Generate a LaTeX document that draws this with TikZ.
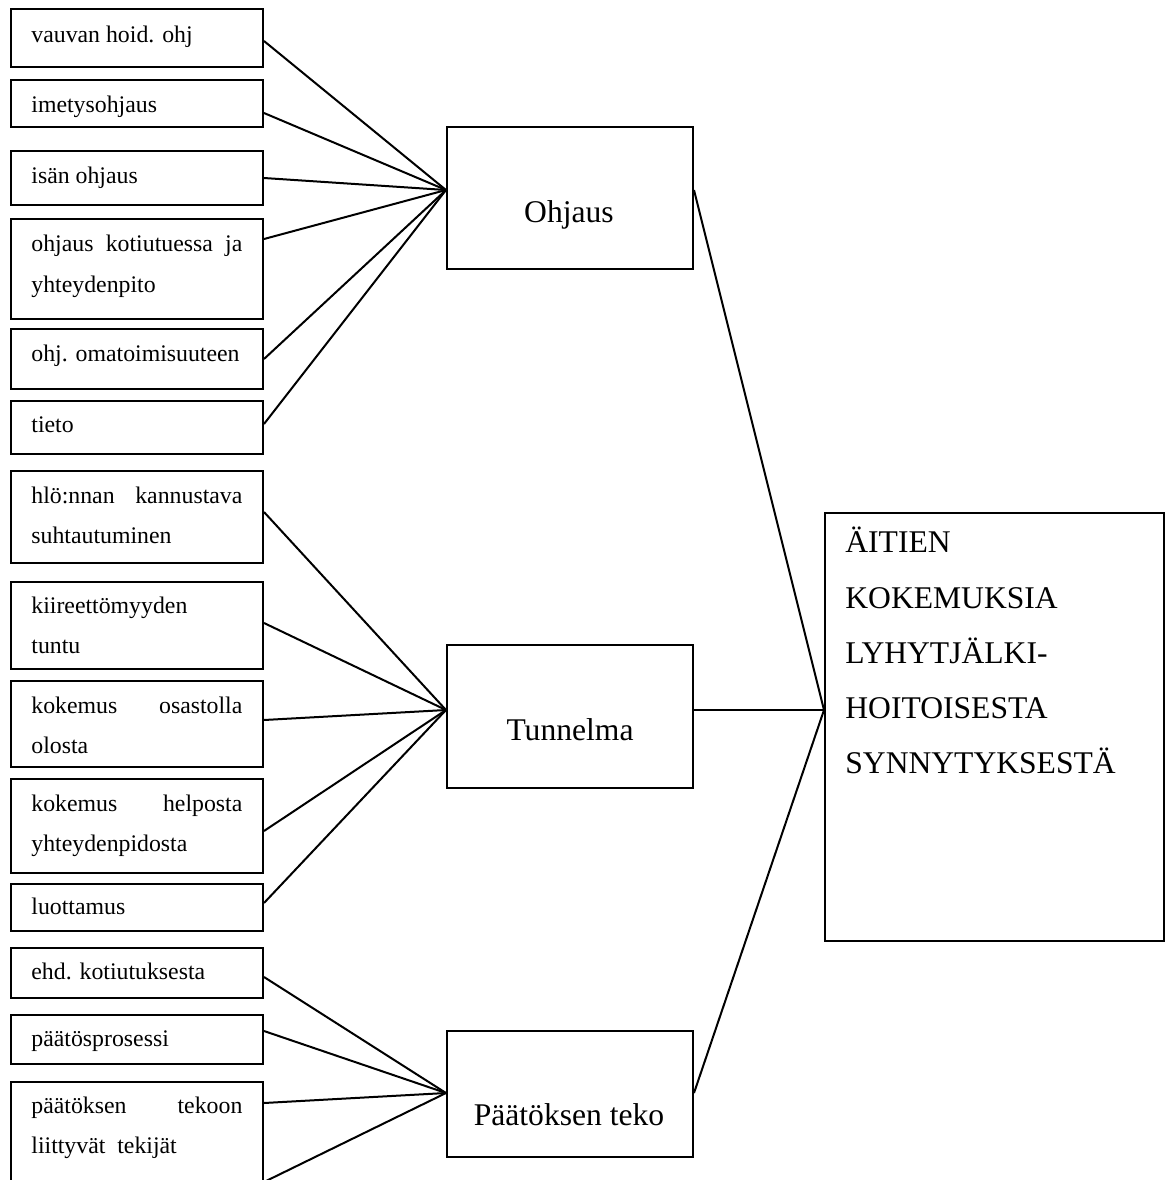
\documentclass[tikz,border=0pt]{standalone}
\usepackage{fontspec}
\setmainfont{Liberation Serif}
\begin{document}
\begin{tikzpicture}[x=0.5pt,y=-0.5pt,
  box/.style={draw,line width=1pt,inner sep=0pt,anchor=north west,minimum width=126pt},
  cbox/.style={draw,line width=1pt,inner sep=0pt,anchor=north west,minimum width=123pt},
  small/.style={anchor=base west,inner sep=0pt,font=\fontsize{11.9}{14}\selectfont},
  big/.style={anchor=base,inner sep=0pt,font=\fontsize{15.8}{19}\selectfont},
  bigl/.style={anchor=base west,inner sep=0pt,font=\fontsize{15.8}{19}\selectfont},
  conn/.style={line width=1pt}]
\useasboundingbox (0,0) rectangle (1165,1180);
% left boxes
\node[box,minimum height=29pt]   (b1)  at (10,8) {};
\node[box,minimum height=23.5pt] (b2)  at (10,79) {};
\node[box,minimum height=27pt]   (b3)  at (10,150) {};
\node[box,minimum height=50pt]   (b4)  at (10,218) {};
\node[box,minimum height=30pt]   (b5)  at (10,328) {};
\node[box,minimum height=26.5pt] (b6)  at (10,400) {};
\node[box,minimum height=46pt]   (b7)  at (10,470) {};
\node[box,minimum height=43.5pt] (b8)  at (10,581) {};
\node[box,minimum height=43pt]   (b9)  at (10,680) {};
\node[box,minimum height=47pt]   (b10) at (10,778) {};
\node[box,minimum height=23.5pt] (b11) at (10,883) {};
\node[box,minimum height=25pt]   (b12) at (10,947) {};
\node[box,minimum height=24.5pt] (b13) at (10,1014) {};
\node[box,minimum height=60pt]   (b14) at (10,1081) {};
% texts of left boxes
\node[small] (t1)  at (31,42)  {vauvan hoid. ohj};
\node[small] (t2)  at (31,112) {imetysohjaus};
\node[small] (t3)  at (31,183) {isän ohjaus};
\node[small] (t4a) at (31,251) {\makebox[105.5pt][s]{ohjaus kotiutuessa ja}};
\node[small] (t4b) at (31,292) {yhteydenpito};
\node[small] (t5)  at (31,361) {ohj. omatoimisuuteen};
\node[small] (t6)  at (31,432) {tieto};
\node[small] (t7a) at (31,503) {\makebox[105.5pt][s]{hlö:nnan kannustava}};
\node[small] (t7b) at (31,543) {suhtautuminen};
\node[small] (t8a) at (31,613) {kiireettömyyden};
\node[small] (t8b) at (31,653) {tuntu};
\node[small] (t9a) at (31,713) {\makebox[105.5pt][s]{kokemus osastolla}};
\node[small] (t9b) at (31,753) {olosta};
\node[small] (t10a) at (31,811) {\makebox[105.5pt][s]{kokemus helposta}};
\node[small] (t10b) at (31,851) {yhteydenpidosta};
\node[small] (t11) at (31,914) {luottamus};
\node[small] (t12) at (31,979) {ehd. kotiutuksesta};
\node[small] (t13) at (31,1046) {päätösprosessi};
\node[small] (t14a) at (31,1113) {\makebox[105.5pt][s]{päätöksen tekoon}};
\node[small] (t14b) at (31,1153) {liittyvät\ \ tekijät};
% category boxes
\node[cbox,minimum height=71pt]   (ohj) at (446,126) {};
\node[cbox,minimum height=71.5pt] (tun) at (446,644) {};
\node[cbox,minimum height=63pt]   (paa) at (446,1030) {};
\node[big] (tohj) at (569,222)  {Ohjaus};
\node[big] (ttun) at (570,740)  {Tunnelma};
\node[big] (tpaa) at (569,1125) {Päätöksen teko};
% main box
\node[draw,line width=1pt,inner sep=0pt,anchor=north west,minimum width=169.5pt,minimum height=214pt] (main) at (824,512) {};
\node[bigl] (m1) at (845,552) {ÄITIEN};
\node[bigl] (m2) at (845,608) {KOKEMUKSIA};
\node[bigl] (m3) at (845,663) {LYHYTJÄLKI-};
\node[bigl] (m4) at (845,718) {HOITOISESTA};
\node[bigl] (m5) at (845,773) {SYNNYTYKSESTÄ};
% connectors to Ohjaus
\draw[conn] (b1.east |- 0,41)  -- (ohj.west |- 0,190);
\draw[conn] (b2.east |- 0,113) -- (ohj.west |- 0,190);
\draw[conn] (b3.east |- 0,178) -- (ohj.west |- 0,190);
\draw[conn] (b4.east |- 0,239) -- (ohj.west |- 0,190);
\draw[conn] (b5.east |- 0,359) -- (ohj.west |- 0,190);
\draw[conn] (b6.east |- 0,424) -- (ohj.west |- 0,190);
% connectors to Tunnelma
\draw[conn] (b7.east |- 0,512)  -- (tun.west |- 0,710);
\draw[conn] (b8.east |- 0,623)  -- (tun.west |- 0,710);
\draw[conn] (b9.east |- 0,720)  -- (tun.west |- 0,710);
\draw[conn] (b10.east |- 0,831) -- (tun.west |- 0,710);
\draw[conn] (b11.east |- 0,903) -- (tun.west |- 0,710);
% connectors to Paatoksen teko
\draw[conn] (b12.east |- 0,977)  -- (paa.west |- 0,1093);
\draw[conn] (b13.east |- 0,1031) -- (paa.west |- 0,1093);
\draw[conn] (b14.east |- 0,1103) -- (paa.west |- 0,1093);
\draw[conn] (b14.east |- 0,1182) -- (paa.west |- 0,1093);
% connectors to main
\draw[conn] (ohj.east |- 0,190)  -- (main.west |- 0,710);
\draw[conn] (tun.east |- 0,710)  -- (main.west |- 0,710);
\draw[conn] (paa.east |- 0,1093) -- (main.west |- 0,710);
\end{tikzpicture}
\end{document}
